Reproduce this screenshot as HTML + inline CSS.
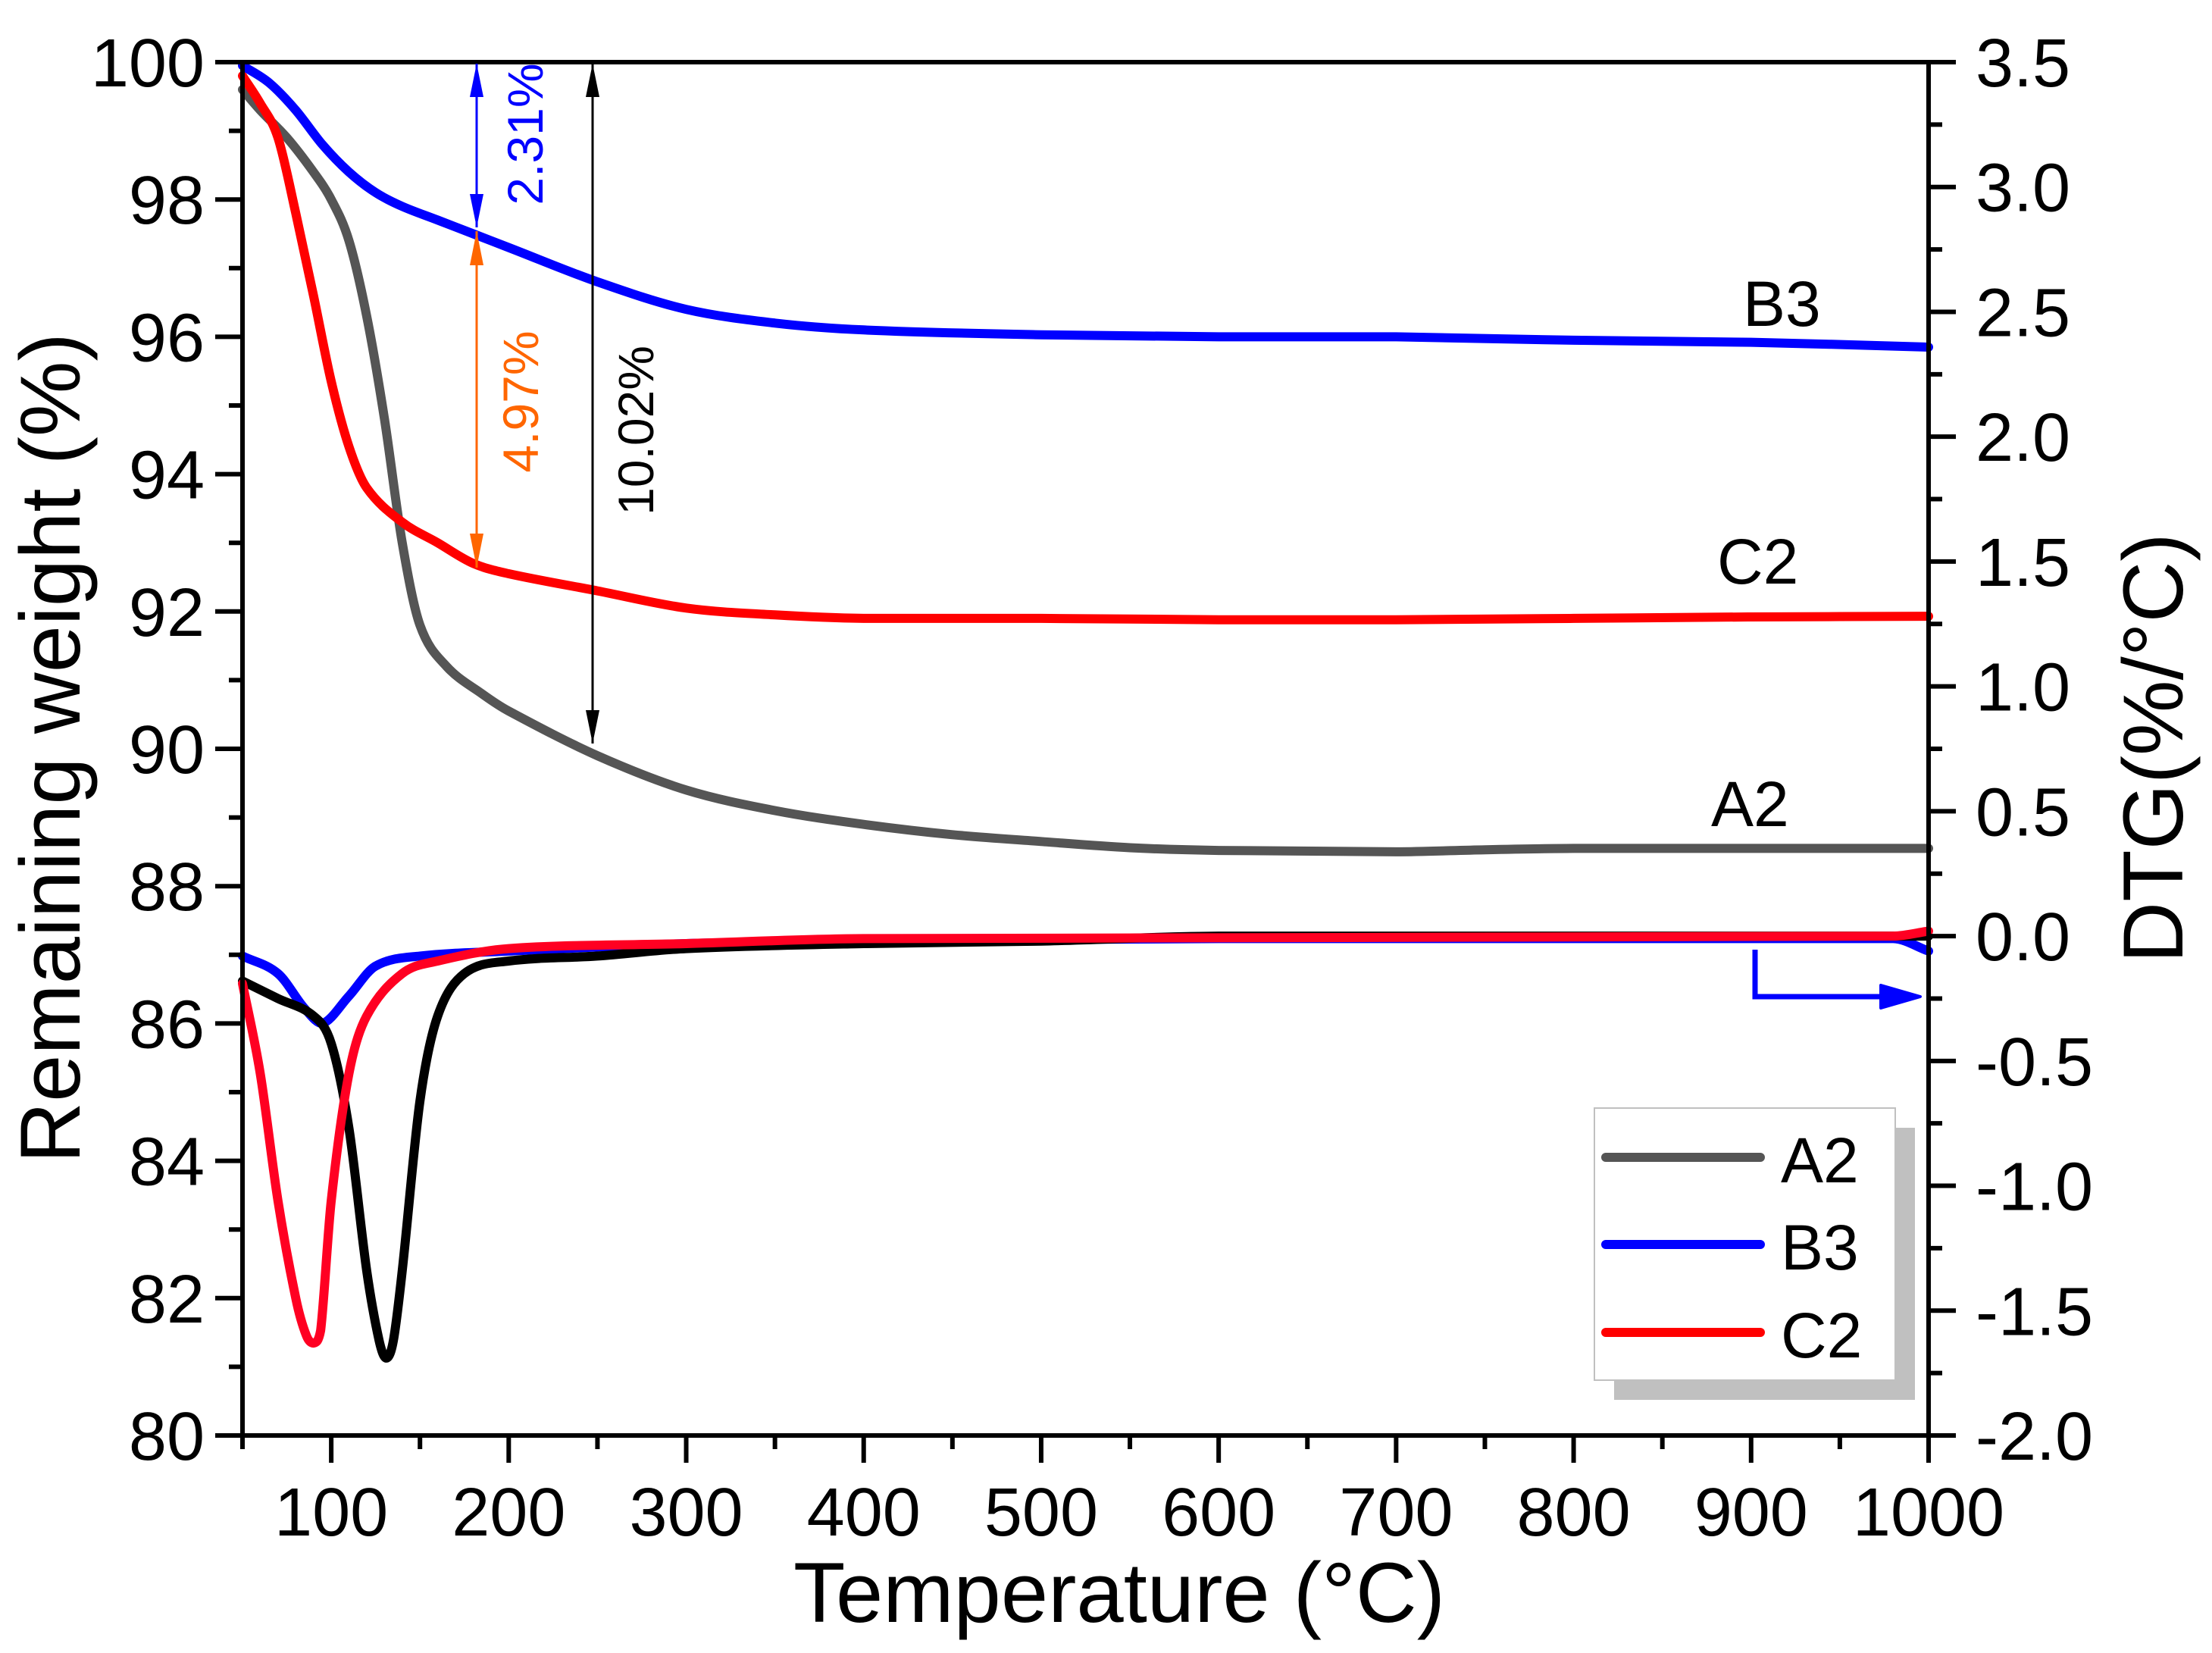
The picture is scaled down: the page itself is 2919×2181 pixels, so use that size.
<!DOCTYPE html>
<html><head><meta charset="utf-8"><style>
html,body{margin:0;padding:0;background:#fff;}
svg{display:block;font-family:"Liberation Sans",Arial,sans-serif;}
</style></head><body>
<svg id="chart" width="2919" height="2181" viewBox="0 0 2919 2181" xmlns="http://www.w3.org/2000/svg">
<g id="plot"></g>
</svg>
<script>
const temps = [50,1000];
const xTicks = [100,200,300,400,500,600,700,800,900,1000];
const yLeftTicks = [80,82,84,86,88,90,92,94,96,98,100];
const yRightTicks = [-2.0,-1.5,-1.0,-0.5,0.0,0.5,1.0,1.5,2.0,2.5,3.0,3.5];
const tgA2 = [[50,99.6],[60,99.3],[75,98.9],[90,98.4],[100,98.0],[110,97.4],[120,96.3],[130,94.8],[140,93.0],[150,91.8],[165,91.2],[185,90.8],[200,90.55],[250,89.9],[300,89.4],[350,89.1],[400,88.9],[450,88.75],[500,88.65],[550,88.56],[600,88.52],[700,88.5],[750,88.53],[800,88.55],[900,88.55],[1000,88.55]];
const tgB3 = [[50,99.95],[65,99.7],[80,99.3],[95,98.8],[110,98.4],[125,98.1],[140,97.9],[160,97.7],[180,97.5],[200,97.3],[250,96.8],[300,96.4],[350,96.2],[400,96.1],[500,96.03],[600,96.0],[700,96.0],[800,95.95],[900,95.92],[1000,95.85]];
const tgC2 = [[50,99.8],[60,99.4],[70,98.9],[80,97.8],[90,96.6],[100,95.35],[110,94.4],[120,93.8],[140,93.3],[160,93.0],[180,92.7],[200,92.55],[250,92.3],[300,92.05],[350,91.95],[400,91.9],[500,91.9],[600,91.88],[700,91.88],[800,91.9],[900,91.92],[1000,91.93]];
const dtgA2 = [[50,-0.18],[70,-0.25],[90,-0.32],[100,-0.43],[110,-0.77],[120,-1.34],[127,-1.62],[131,-1.69],[135,-1.62],[140,-1.34],[150,-0.66],[160,-0.32],[175,-0.15],[200,-0.1],[250,-0.08],[300,-0.05],[400,-0.03],[500,-0.02],[600,0],[1000,0]];
const dtgB3 = [[50,-0.08],[70,-0.15],[85,-0.29],[95,-0.35],[110,-0.24],[125,-0.12],[150,-0.08],[200,-0.06],[300,-0.03],[400,-0.02],[600,-0.01],[980,-0.01],[1000,-0.06]];
const dtgC2 = [[50,-0.19],[60,-0.55],[70,-1.06],[80,-1.45],[86,-1.6],[90,-1.63],[94,-1.58],[100,-1.06],[110,-0.55],[120,-0.32],[140,-0.15],[160,-0.1],[200,-0.05],[300,-0.03],[400,-0.01],[980,0],[1000,0.02]];

const L=320,R=2545,T=82,B=1894;
const x = t => L + (t-temps[0])/(temps[1]-temps[0])*(R-L);
const yl = w => B - (w-80)/20*(B-T);
const yr = d => B - (d+2)/5.5*(B-T);
const NS="http://www.w3.org/2000/svg";
const g=document.getElementById('plot');
function el(tag,attrs,parent){const e=document.createElementNS(NS,tag);for(const k in attrs)e.setAttribute(k,attrs[k]);(parent||g).appendChild(e);return e;}
function txt(s,attrs){const e=el('text',attrs);e.textContent=s;return e;}

// monotone-x smoothing: tangents scaled to segment width to avoid overshoot
function smoothPath(pts){
  const n=pts.length, m=[];
  for(let i=0;i<n;i++){
    const a=pts[Math.max(0,i-1)], b=pts[Math.min(n-1,i+1)];
    m.push((b[1]-a[1])/(b[0]-a[0]));
  }
  let d='M'+pts[0][0].toFixed(1)+','+pts[0][1].toFixed(1);
  for(let i=0;i<n-1;i++){
    const p1=pts[i],p2=pts[i+1],h=p2[0]-p1[0];
    let s=(p2[1]-p1[1])/h, m1=m[i], m2=m[i+1];
    if(s===0){m1=0;m2=0;}
    else{ if(m1*s<0)m1=0; if(m2*s<0)m2=0; if(Math.abs(m1)>3*Math.abs(s))m1=3*s; if(Math.abs(m2)>3*Math.abs(s))m2=3*s; }
    d+=' C'+(p1[0]+h/3).toFixed(1)+','+(p1[1]+m1*h/3).toFixed(1)+' '+(p2[0]-h/3).toFixed(1)+','+(p2[1]-m2*h/3).toFixed(1)+' '+p2[0].toFixed(1)+','+p2[1].toFixed(1);
  }
  return d;
}
function series(data,fy,color,name){
  const pts=data.map(p=>[x(p[0]),fy(p[1])]);
  const p=el('path',{d:smoothPath(pts),fill:'none',stroke:color,'stroke-width':12,'stroke-linejoin':'round','stroke-linecap':'round'});
  
  
}
series(dtgB3,yr,'#0000ff','dtg-b3-line');
series(dtgA2,yr,'#000000','dtg-a2-line');
series(dtgC2,yr,'#ff0022','dtg-c2-line');
series(tgA2,yl,'#555555','tg-a2-line');
series(tgC2,yl,'#ff0000','tg-c2-line');
series(tgB3,yl,'#0000ff','tg-b3-line');

const fr=el('rect',{x:L,y:T,width:R-L,height:B-T,fill:'none',stroke:'#000','stroke-width':6});



for(let t=50;t<=1000;t+=50){el('line',{x1:x(t),x2:x(t),y1:B,y2:B+(t%100===0?36:18),stroke:'#000','stroke-width':6});}
xTicks.forEach(t=>{const e=txt(String(t),{x:x(t),y:2026,'font-size':90,'text-anchor':'middle'});
  
  });
for(let w=80;w<=100;w+=1){el('line',{x1:L,x2:L-(w%2===0?36:18),y1:yl(w),y2:yl(w),stroke:'#000','stroke-width':6});}
yLeftTicks.forEach(w=>{const e=txt(String(w),{x:L-50,y:yl(w)+32,'font-size':90,'text-anchor':'end'});
  
  });
for(let k=0;k<=22;k++){const d=-2+k*0.25;el('line',{x1:R,x2:R+(k%2===0?36:18),y1:yr(d),y2:yr(d),stroke:'#000','stroke-width':6});}
yRightTicks.forEach(d=>{const e=txt(d.toFixed(1),{x:R+62,y:yr(d)+32,'font-size':90,'text-anchor':'start'});
  
  });
</script>
<script>
(function(){
const g=document.getElementById('plot');
g.insertAdjacentHTML('beforeend',`
<text x="1477" y="2140" font-size="112" text-anchor="middle">Temperature (°C)</text>
<text transform="translate(105,987) rotate(-90)" font-size="112" text-anchor="middle">Remaining weight (%)</text>
<text transform="translate(2880,987) rotate(-90)" font-size="112" text-anchor="middle">DTG(%/°C)</text>
<g>
<line x1="629" y1="84" x2="629" y2="300" stroke="#0000ff" stroke-width="3"/>
<path d="M629,84 L620,128 L638,128 Z M629,300 L620,256 L638,256 Z" fill="#0000ff"/>
<text transform="translate(716,177) rotate(-90)" font-size="66" fill="#0000ff" text-anchor="middle">2.31%</text>
</g>
<g>
<line x1="629" y1="305" x2="629" y2="749" stroke="#ff6600" stroke-width="3"/>
<path d="M629,305 L620,350 L638,350 Z M629,749 L620,704 L638,704 Z" fill="#ff6600"/>
<text transform="translate(710,530) rotate(-90)" font-size="66" fill="#ff6600" text-anchor="middle">4.97%</text>
</g>
<g>
<line x1="782" y1="84" x2="782" y2="981" stroke="#000" stroke-width="3"/>
<path d="M782,84 L773,128 L791,128 Z M782,981 L773,937 L791,937 Z" fill="#000"/>
<text transform="translate(862,568) rotate(-90)" font-size="66" fill="#000" text-anchor="middle">10.02%</text>
</g>
<text x="2300" y="430" font-size="84">B3</text>
<text x="2266" y="770" font-size="84">C2</text>
<text x="2258" y="1090" font-size="84">A2</text>
<g>
<path d="M2316,1253 L2316,1315 L2490,1315" fill="none" stroke="#0000ff" stroke-width="7"/>
<path d="M2482,1300 L2534,1315 L2482,1330 Z" fill="#0000ff" stroke="#0000ff" stroke-width="4" stroke-linejoin="round"/>
</g>
<g>
<rect x="2130" y="1488" width="397" height="359" fill="#c0c0c0"/>
<rect x="2104" y="1462" width="397" height="359" fill="#fff" stroke="#c0c0c0" stroke-width="2"/>
<g><line x1="2119" x2="2323" y1="1527" y2="1527" stroke="#555" stroke-width="12" stroke-linecap="round"/><text x="2350" y="1560" font-size="84">A2</text></g>
<g><line x1="2119" x2="2323" y1="1642" y2="1642" stroke="#0000ff" stroke-width="12" stroke-linecap="round"/><text x="2350" y="1675" font-size="84">B3</text></g>
<g><line x1="2119" x2="2323" y1="1758" y2="1758" stroke="#ff0000" stroke-width="12" stroke-linecap="round"/><text x="2350" y="1791" font-size="84">C2</text></g>
</g>`);
})();
</script>
</body></html>
